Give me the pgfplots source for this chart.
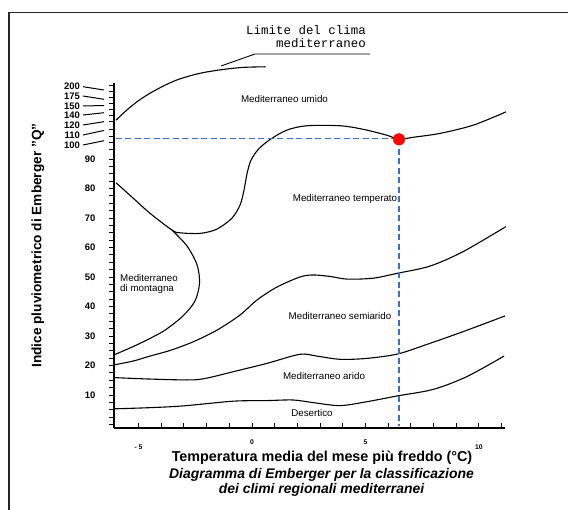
\documentclass[border=0pt]{standalone}
\usepackage{pgfplots}
\pgfplotsset{compat=1.18}
\usepackage{fontspec}
\setmainfont{Liberation Sans}
\setmonofont{Liberation Mono}
\definecolor{dashblue}{RGB}{60,110,210}
\begin{document}
\begin{tikzpicture}
\useasboundingbox (0,0) rectangle (568bp,-510bp);
\begin{axis}[
  at={(114bp,-428bp)}, anchor=south west,
  scale only axis, width=391bp, height=345bp,
  xmin=-6.08, xmax=11.15, ymin=-1.2, ymax=115.8,
  axis x line*=bottom, axis y line*=left,
  axis line style={line width=1.1bp, black, -},
  clip=false,
  /pgf/number format/assume math mode=true,
  xtick={-5,...,11},
  xticklabels={,,,,,0,,,,,5,,,,,,},
  extra x ticks={-5,10},
  extra x tick labels={- 5,10},
  extra x tick style={xticklabel style={yshift=-5bp}},
  xticklabel style={font=\bfseries\fontsize{6.8}{7}\selectfont, yshift=-8bp},
  xtick align=inside,
  ytick={10,20,...,90},
  minor ytick={0,2.5,...,90},
  extra y ticks={93.1,95.5,97.7,100.0,102.6,104.9,106.9,109.0,111.0,113.1,115.1},
  extra y tick labels={},
  ytick align=outside,
  yticklabel style={font=\bfseries\fontsize{9.5}{10}\selectfont, anchor=east, xshift=-10bp},
  major tick length=5bp, minor tick length=5bp,
  tick style={line width=0.9bp, black},
]
% Limite del clima mediterraneo
\addplot[black, line width=1.1bp, smooth] coordinates {
 (-5.99,103.2) (-5.52,106.6) (-4.93,110.2) (-4.20,113.6) (-3.32,116.8)
 (-2.29,119.1) (-1.26,120.4) (-0.38,121.1) (0.60,121.3)};
% umido / temperato boundary (incl. montagna top and bowl)
\addplot[black, line width=1.1bp, smooth] coordinates {
 (-5.99,81.97) (-5.23,76.7) (-4.49,71.6) (-3.52,65.9) (-3.17,65.0) (-2.29,64.8)
 (-1.56,66.2) (-0.89,69.9) (-0.52,74.5) (-0.35,79.5) (-0.22,85.0) (-0.05,89.5)
 (0.28,93.3) (0.79,96.6) (1.53,99.8) (2.41,101.3) (3.88,101.3) (4.90,100.1)
 (5.94,98.1) (6.48,96.7) (7.11,97.4) (8.28,98.7) (9.75,101.5) (11.19,106.0)};
% montagna bulge
\addplot[black, line width=1.1bp, smooth] coordinates {
 (-3.52,65.9) (-2.86,60.5) (-2.42,54.1) (-2.31,48.0) (-2.51,41.9) (-3.04,36.8)
 (-3.83,32.0) (-4.49,29.2) (-5.24,26.4) (-6.08,23.6)};
% temperato / semiarido
\addplot[black, line width=1.1bp, smooth] coordinates {
 (-6.08,20.2) (-5.24,21.5) (-4.49,23.2) (-3.61,25.1) (-2.60,28.0) (-1.54,32.0)
 (-0.53,37.1) (0.22,42.2) (1.10,46.6) (2.11,50.0) (2.69,50.7) (3.44,50.2)
 (4.19,49.3) (5.33,49.6) (6.43,51.3) (7.84,53.7) (9.30,58.6) (11.19,67.1)};
% semiarido / arido
\addplot[black, line width=1.1bp, smooth] coordinates {
 (-6.08,15.9) (-4.49,15.4) (-2.73,15.1) (-2.00,15.7) (-0.82,17.9) (0.65,20.7)
 (2.11,23.8) (2.85,23.2) (3.88,22.1) (5.05,22.4) (6.42,23.9) (7.84,27.5)
 (9.31,31.5) (11.15,36.8)};
% arido / desertico
\addplot[black, line width=1.1bp, smooth] coordinates {
 (-6.08,5.3) (-4.49,5.7) (-3.02,6.3) (-0.82,7.9) (0.65,8.1) (1.82,8.3)
 (2.70,7.4) (3.88,6.4) (5.05,7.7) (6.42,9.7) (7.99,11.9) (9.46,16.2) (11.11,23.2)};
% dashed guides
\addplot[draw=dashblue, line width=1.4bp, dash pattern=on 6bp off 3.5bp] coordinates {(-6.0,96.9) (6.48,96.9)};
\addplot[draw=dashblue, line width=1.3bp, dash pattern=on 6bp off 3.5bp] coordinates {(6.48,96.7) (6.48,-0.6)};
% red point
\addplot[only marks, mark=*, mark size=5.8bp, mark options={draw=red, fill=red}] coordinates {(6.48,96.7)};
\end{axis}
% frame
\draw[line width=1.2bp, black!85] (9bp,-510bp) -- (9bp,-12.5bp) -- (568bp,-12.5bp);
% compressed scale labels
\foreach \lab/\ly/\ya/\yb in {200/86/86.7/90, 175/96/96/99.3, 150/106/106/105.5, 140/115/115/112.7, 120/125/125/121.7, 110/135/135/130.5, 100/145/145/140.7}{
  \node[font=\bfseries\fontsize{9.5}{10}\selectfont, anchor=east, inner sep=0pt] at (80bp,-\ly bp) {\lab};
  \draw[line width=1bp] (83bp,-\ya bp) -- (104bp,-\yb bp);
}
% Limite text
\node[font=\ttfamily\fontsize{12.5}{13}\selectfont, anchor=east, inner sep=0pt] at (366bp,-30bp) {Limite del clima};
\node[font=\ttfamily\fontsize{12.5}{13}\selectfont, anchor=east, inner sep=0pt] at (366bp,-43.3bp) {mediterraneo};
\draw[line width=0.9bp] (221bp,-66bp) -- (255bp,-54bp) -- (370bp,-54bp);
% region labels
\begin{scope}[every node/.style={font=\fontsize{9.8}{11}\selectfont, inner sep=0pt}]
\node at (284.5bp,-99bp) {Mediterraneo umido};
\node at (345bp,-199bp) {Mediterraneo temperato};
\node at (340bp,-316bp) {Mediterraneo semiarido};
\node at (324bp,-376bp) {Mediterraneo arido};
\node at (312bp,-413.5bp) {Desertico};
\node[anchor=west] at (120bp,-277.7bp) {Mediterraneo};
\node[anchor=west] at (120bp,-289bp) {di montagna};
\end{scope}
% axis titles
\node[rotate=90, font=\bfseries\fontsize{13.7}{14}\selectfont, inner sep=0pt] at (38bp,-245.5bp) {Indice pluviometrico di Emberger "Q"};
\node[font=\bfseries\fontsize{14.4}{15}\selectfont, inner sep=0pt] at (322bp,-458bp) {Temperatura media del mese più freddo (°C)};
\node[font=\bfseries\itshape\fontsize{14}{15}\selectfont, inner sep=0pt] at (321.5bp,-475bp) {Diagramma di Emberger per la classificazione};
\node[font=\bfseries\itshape\fontsize{14}{15}\selectfont, inner sep=0pt] at (321.5bp,-490bp) {dei climi regionali mediterranei};
\end{tikzpicture}
\end{document}
